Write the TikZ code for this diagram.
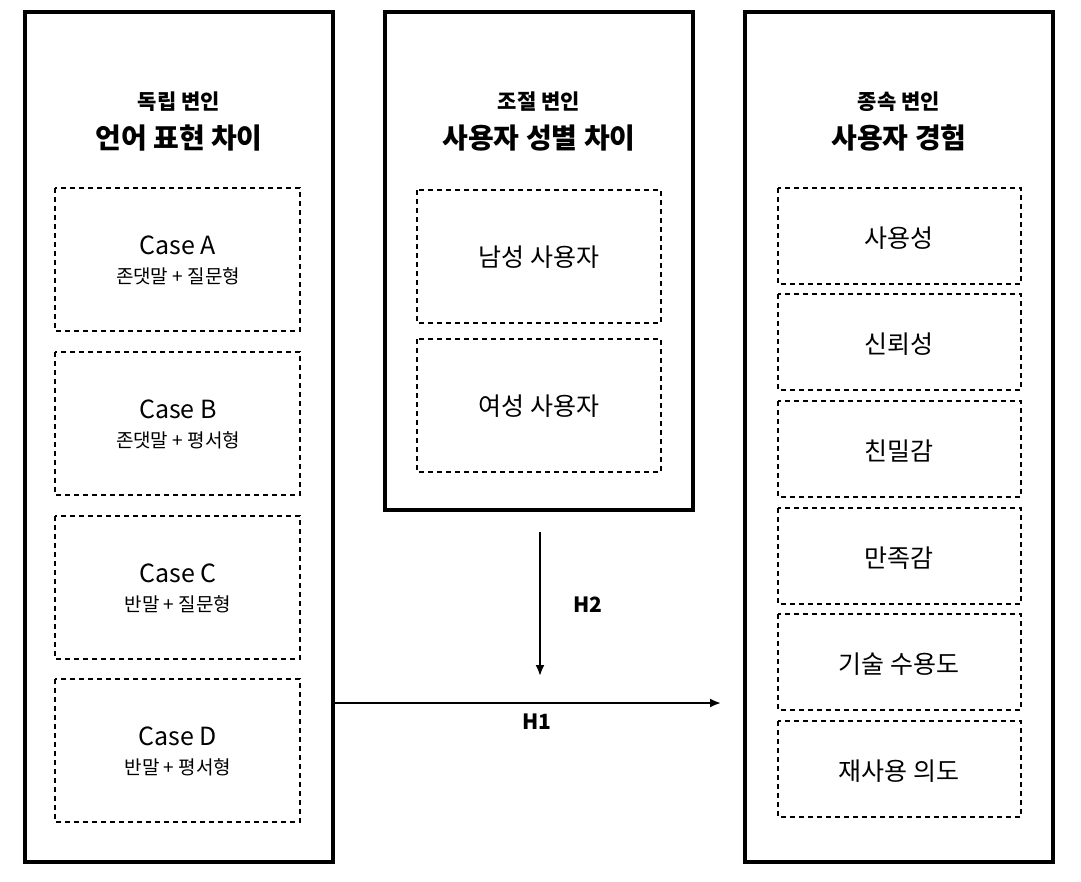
\documentclass[tikz,border=0pt]{standalone}
\usepackage{fontspec}
\setmainfont{Noto Sans CJK KR}
\usetikzlibrary{positioning,arrows.meta}
\tikzset{
    outer/.style={draw, line width=3.4pt},
    inner/.style={draw, line width=2.2pt, dash pattern=on 5pt off 4pt, align=center},
    head/.style={font=\bfseries\fontsize{21}{24}\selectfont},
    title/.style={font=\bfseries\fontsize{28}{32}\selectfont},
    lbl/.style={font=\fontsize{25}{28}\selectfont},
}
\begin{document}
\begin{tikzpicture}[x=1pt,y=-1pt]
    \useasboundingbox (0,0) rectangle (1081,881);
    % outer frames
    \draw[outer] (25,12) rectangle (333,862);
    \draw[outer] (385,12) rectangle (693,510);
    \draw[outer] (745,12) rectangle (1053,862);
    \node[head] (indH) at (179,102) {독립 변인};
    \node[title] (indT) at (179,138) {언어 표현 차이};
    \node[head] (modH) at (539,102) {조절 변인};
    \node[title] (modT) at (539,138) {사용자 성별 차이};
    \node[head] (depH) at (899,102) {종속 변인};
    \node[title] (depT) at (899,138) {사용자 경험};
    % cases
    \foreach \y/\c/\t in {188/A/존댓말 + 질문형, 352/B/존댓말 + 평서형, 516/C/반말 + 질문형, 679/D/반말 + 평서형} {
        \draw[inner] (55,\y) rectangle (300,\y+143);
        \node[lbl] at (178,\y+57) {Case \c};
        \node[font=\fontsize{19}{22}\selectfont] at (178,\y+88) {\t};
    }
    % gender
    \foreach \y/\t in {190/남성 사용자, 339/여성 사용자} {
        \draw[inner] (417,\y) rectangle (661,\y+133);
        \node[lbl] at (539,\y+67) {\t};
    }
    % outcomes
    \foreach \y/\t in {188/사용성, 294/신뢰성, 401/친밀감, 508/만족감, 614/기술 수용도, 721/재사용 의도} {
        \draw[inner] (778,\y) rectangle (1021,\y+96);
        \node[lbl] at (899,\y+50) {\t};
    }
    % hypotheses
    \coordinate (h2s) at (540,532);
    \coordinate (h2e) at (540,676);
    \coordinate (h1s) at (333,703);
    \coordinate (h1e) at (721,703);
    \draw[line width=2pt, -{Latex[length=11pt,width=9pt]}] (h2s) -- (h2e);
    \draw[line width=2pt, -{Latex[length=11pt,width=9pt]}] (h1s) -- (h1e);
    \node[head] (h2) at (588,605) {H2};
    \node[head] (h1) at (537,722) {H1};
\end{tikzpicture}
\end{document}
